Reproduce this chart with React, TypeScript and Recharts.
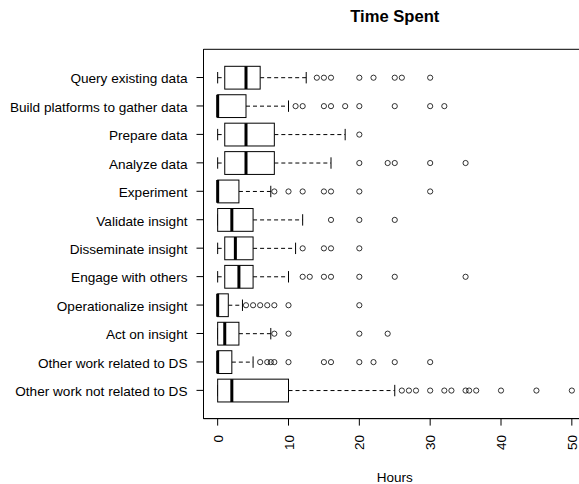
import React from 'react';
import { ComposedChart, Bar, XAxis, YAxis, CartesianGrid } from 'recharts';

const CATEGORIES = [
  'Query existing data',
  'Build platforms to gather data',
  'Prepare data',
  'Analyze data',
  'Experiment',
  'Validate insight',
  'Disseminate insight',
  'Engage with others',
  'Operationalize insight',
  'Act on insight',
  'Other work related to DS',
  'Other work not related to DS',
];

const WHISKER_LOW = [0, 0, 0, 0, 0, 0, 0, 0, 0, 0, 0, 0];
const Q1 = [1, 0, 1, 1, 0, 0, 1, 1, 0, 0, 0, 0];
const MEDIAN = [4, 0, 4, 4, 0, 2, 2.5, 3, 0, 1, 0, 2];
const Q3 = [6, 4, 8, 8, 3, 5, 5, 5, 1.5, 3, 2, 10];
const WHISKER_HIGH = [12.5, 10, 18, 16, 7.5, 12, 11, 10, 3.5, 7.5, 5, 25];

const OUT_QUERY = [14, 15, 16, 20, 22, 25, 26, 30];
const OUT_BUILD = [11, 12, 15, 16, 18, 20, 25, 30, 32];
const OUT_PREPARE = [20];
const OUT_ANALYZE = [20, 24, 25, 30, 35];
const OUT_EXPERIMENT = [8, 10, 12, 15, 16, 20, 30];
const OUT_VALIDATE = [16, 20, 25];
const OUT_DISSEMINATE = [12, 15, 16, 20];
const OUT_ENGAGE = [12, 13, 15, 16, 20, 25, 35];
const OUT_OPERATIONALIZE = [4, 5, 6, 7, 8, 10, 20];
const OUT_ACT = [8, 10, 20, 24];
const OUT_OTHER_DS = [6, 7, 7.5, 8, 10, 15, 16, 20, 22, 25, 30];
const OUT_OTHER_NON_DS = [26, 27, 28, 30, 32, 33, 35, 35.5, 36.5, 40, 45, 50];

const OUTLIERS = [
  OUT_QUERY,
  OUT_BUILD,
  OUT_PREPARE,
  OUT_ANALYZE,
  OUT_EXPERIMENT,
  OUT_VALIDATE,
  OUT_DISSEMINATE,
  OUT_ENGAGE,
  OUT_OPERATIONALIZE,
  OUT_ACT,
  OUT_OTHER_DS,
  OUT_OTHER_NON_DS,
];

const X_TICKS = [0, 10, 20, 30, 40, 50];
const X_DOMAIN = [-2, 52];

const TITLE = 'Time Spent';
const X_LABEL = 'Hours';

const FONT = '"Liberation Sans", Arial, sans-serif';

const rows = CATEGORIES.map((name, i) => ({
  name,
  frame: [X_TICKS[0], X_TICKS[X_TICKS.length - 1]],
  low: WHISKER_LOW[i],
  q1: Q1[i],
  med: MEDIAN[i],
  q3: Q3[i],
  high: WHISKER_HIGH[i],
  outliers: OUTLIERS[i],
}));

const BoxShape = (props: any) => {
  const { x, y, width, height } = props;
  const d = props.payload || props;
  const lo = d.frame[0];
  const hi = d.frame[1];
  const sx = (v: number) => x + ((v - lo) / (hi - lo)) * width;
  const cy = y + height / 2;
  const half = height / 2;
  const capHalf = height / 4;
  const stroke = '#000';
  return (
    <g>
      <line x1={sx(d.low)} x2={sx(d.q1)} y1={cy} y2={cy} stroke={stroke} strokeWidth={1} strokeDasharray="4 3" />
      <line x1={sx(d.q3)} x2={sx(d.high)} y1={cy} y2={cy} stroke={stroke} strokeWidth={1} strokeDasharray="4 3" />
      <line x1={sx(d.low)} x2={sx(d.low)} y1={cy - capHalf} y2={cy + capHalf} stroke={stroke} strokeWidth={1} />
      <line x1={sx(d.high)} x2={sx(d.high)} y1={cy - capHalf} y2={cy + capHalf} stroke={stroke} strokeWidth={1} />
      <rect x={sx(d.q1)} y={cy - half} width={sx(d.q3) - sx(d.q1)} height={2 * half} fill="#fff" stroke={stroke} strokeWidth={1} />
      <line x1={sx(d.med)} x2={sx(d.med)} y1={cy - half} y2={cy + half} stroke={stroke} strokeWidth={3} />
      {d.outliers.map((v: number, k: number) => (
        <circle key={k} cx={sx(v)} cy={cy} r={2.6} fill="none" stroke={stroke} strokeWidth={0.8} />
      ))}
    </g>
  );
};

const XTick = (props: any) => {
  const { x, y, payload } = props;
  const px = x + 5;
  const py = y + 9.4;
  return (
    <text x={px} y={py} transform={`rotate(-90, ${px}, ${py})`} textAnchor="end" fontSize={13.5} fill="#000" fontFamily={FONT}>
      {payload.value}
    </text>
  );
};

const YTick = (props: any) => {
  const { x, y, payload } = props;
  return (
    <text x={x} y={y} dy={5.8} textAnchor="end" fontSize={13.6} fill="#000" fontFamily={FONT}>
      {payload.value}
    </text>
  );
};

export default function App() {
  return (
    <div style={{ position: 'absolute', left: 0, top: 0, width: 579, height: 484, overflow: 'hidden', background: '#fff', fontFamily: FONT }}>
      <div
        style={{
          position: 'absolute',
          left: 294.8,
          top: 8.6,
          width: 200,
          textAlign: 'center',
          fontSize: 16.6,
          lineHeight: '16px',
          fontWeight: 'bold',
          color: '#000',
          fontFamily: FONT,
        }}
      >
        {TITLE}
      </div>
      <ComposedChart
        width={600}
        height={484}
        data={rows}
        layout="vertical"
        margin={{ top: 49.3, right: 14, bottom: 0, left: 0 }}
        barCategoryGap={0}
      >
        <CartesianGrid
          stroke="#000"
          strokeWidth={1}
          horizontalCoordinatesGenerator={(p: any) => [p.offset.top, p.offset.top + p.offset.height]}
          verticalCoordinatesGenerator={(p: any) => [p.offset.left, p.offset.left + p.offset.width]}
        />
        <XAxis
          type="number"
          domain={X_DOMAIN}
          ticks={X_TICKS}
          allowDataOverflow
          height={65.4}
          tickSize={7}
          tickMargin={0}
          tick={<XTick />}
          axisLine={{ stroke: '#000' }}
          tickLine={{ stroke: '#000' }}
          interval={0}
          label={{ value: X_LABEL, position: 'insideBottom', offset: 2.3, fill: '#000', fontSize: 13.5 }}
        />
        <YAxis
          type="category"
          dataKey="name"
          width={203.5}
          tickSize={7}
          tickMargin={9}
          tick={<YTick />}
          padding={{ top: 14, bottom: 14 }}
          axisLine={{ stroke: '#000' }}
          tickLine={{ stroke: '#000' }}
          interval={0}
        />
        <Bar dataKey="frame" barSize={22.8} shape={<BoxShape />} isAnimationActive={false} />
      </ComposedChart>
    </div>
  );
}
